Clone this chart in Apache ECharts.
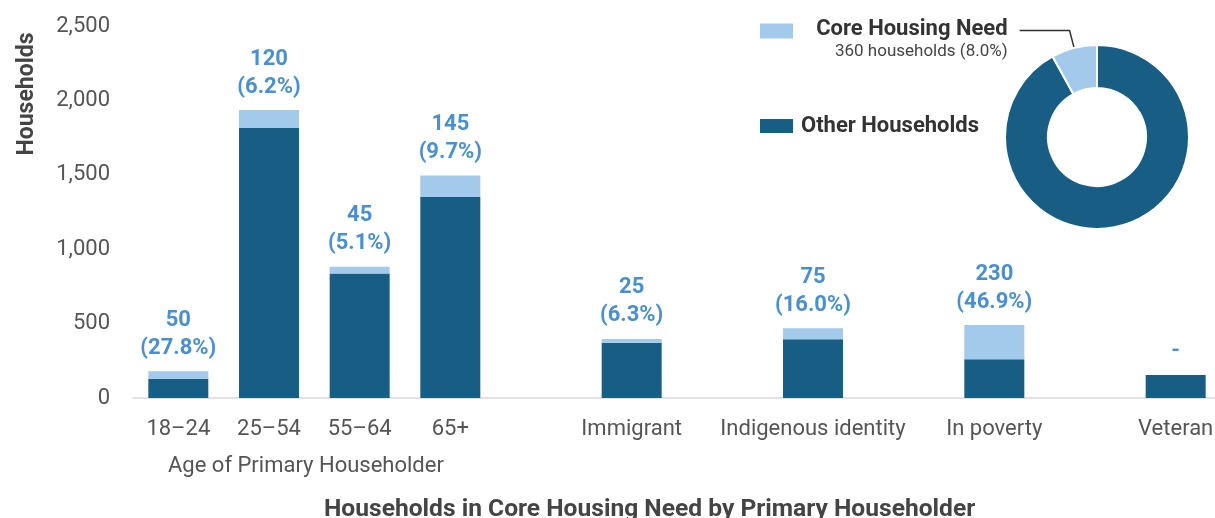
<!DOCTYPE html>
<html>
<head>
<meta charset="utf-8">
<script src="https://cdn.jsdelivr.net/npm/echarts@6/dist/echarts.min.js"></script>
<style>
html,body{margin:0;padding:0;background:#fff;overflow:hidden;}
#chart{width:1221px;height:518px;}
</style>
</head>
<body>
<div id="chart"></div>
<script>
// ---- data ----
const categories = ['18–24', '25–54', '55–64', '65+', '', 'Immigrant', '', 'Indigenous identity', '', 'In poverty', '', 'Veteran'];
const otherHouseholds = [130, 1815, 837, 1350, null, 372, null, 394, null, 260, null, 155];
const coreNeed = [50, 120, 45, 145, null, 25, null, 75, null, 230, null, 0];
const corePct = [27.8, 6.2, 5.1, 9.7, null, 6.3, null, 16.0, null, 46.9, null, null];
const ageIdx = [0, 1, 2, 3];
const yMin = 0, yMax = 2500, yInterval = 500;

const DARK = '#185d83';
const LIGHT = '#a4caeb';
const LABEL_BLUE = '#4a8fd0';
const FONT = 'Roboto';

// donut totals from the age groups
const donutCore = ageIdx.reduce((s, i) => s + coreNeed[i], 0);
const donutOther = ageIdx.reduce((s, i) => s + otherHouseholds[i], 0);
const donutPct = (donutCore / (donutCore + donutOther) * 100).toFixed(1);

const chart = echarts.init(document.getElementById('chart'));
chart.setOption({
  animation: false,
  textStyle: { fontFamily: FONT },
  title: [
    { text: 'Age of Primary Householder', left: 163, top: 450, padding: 5,
      textStyle: { fontFamily: FONT, fontSize: 22, fontWeight: 'normal', color: '#555' } },
    { text: 'Households in Core Housing Need by Primary Householder', left: 319, top: 492, padding: 5,
      textStyle: { fontFamily: FONT, fontSize: 24.6, fontWeight: 'bold', color: '#444' } }
  ],
  graphic: [
    { type: 'text', x: 27, y: 94, rotation: Math.PI / 2,
      style: { text: 'Households', font: 'bold 23px Roboto', fill: '#444', align: 'center', verticalAlign: 'middle' } }
  ],
  legend: [
    { data: ['Core Housing Need'], left: 760, top: 19, padding: 0, icon: 'rect', itemWidth: 33, itemHeight: 15,
      selectedMode: false, formatter: () => ' ', textStyle: { fontSize: 22, lineHeight: 24 } },
    { data: ['Other Households'], left: 760, top: 114, padding: 0, icon: 'rect', itemWidth: 33, itemHeight: 14,
      selectedMode: false,
      textStyle: { fontFamily: FONT, fontSize: 22, lineHeight: 24, fontWeight: 'bold', color: '#333', padding: [0, 0, 0, 3] } }
  ],
  grid: { left: 133, right: 0, top: 26, bottom: 120, containLabel: false },
  xAxis: {
    type: 'category', data: categories,
    axisTick: { show: false },
    axisLine: { lineStyle: { color: '#d9d9d9', width: 1.5 } },
    axisLabel: { interval: 0, fontSize: 22, color: '#555', margin: 20, fontFamily: FONT }
  },
  yAxis: {
    type: 'value', min: yMin, max: yMax, interval: yInterval,
    splitLine: { show: false },
    axisLine: { show: false }, axisTick: { show: false },
    axisLabel: { fontSize: 22, color: '#555', margin: 23, fontFamily: FONT,
      formatter: v => v.toLocaleString('en-US') }
  },
  series: [
    { name: 'Other Households', type: 'bar', stack: 'total', barWidth: 60,
      itemStyle: { color: DARK }, data: otherHouseholds },
    { name: 'Core Housing Need', type: 'bar', stack: 'total', barWidth: 60,
      itemStyle: { color: LIGHT }, data: coreNeed,
      label: { show: true, position: 'top', distance: 9,
        fontFamily: FONT, fontSize: 22, fontWeight: 'bold', color: LABEL_BLUE, lineHeight: 28, align: 'center',
        formatter: p => corePct[p.dataIndex] == null ? '-' : coreNeed[p.dataIndex] + '\n(' + corePct[p.dataIndex].toFixed(1) + '%)' } },
    { name: 'Donut', type: 'pie', center: [1097, 137], radius: [49, 92], startAngle: 90, clockwise: true,
      avoidLabelOverlap: false,
      itemStyle: { borderColor: '#fff', borderWidth: 2 },
      emphasis: { disabled: true },
      data: [
        { name: 'Other Households', value: donutOther, itemStyle: { color: DARK },
          label: { show: false }, labelLine: { show: false } },
        { name: 'Core Housing Need', value: donutCore, itemStyle: { color: LIGHT },
          label: { show: true, position: 'outside', alignTo: 'none', distanceToLabelLine: 12,
            padding: [17, 0, 0, 0],
            formatter: '{a|Core Housing Need}\n{b|' + donutCore + ' households (' + donutPct + '%)}',
            rich: {
              a: { fontFamily: FONT, fontSize: 22, fontWeight: 'bold', color: '#333', lineHeight: 26, align: 'right' },
              b: { fontFamily: FONT, fontSize: 17, color: '#444', lineHeight: 19, align: 'right' }
            } },
          labelLine: { show: true, length: 18, length2: 50, lineStyle: { color: '#333', width: 1.5 } } }
      ]
    }
  ]
});
</script>
</body>
</html>
